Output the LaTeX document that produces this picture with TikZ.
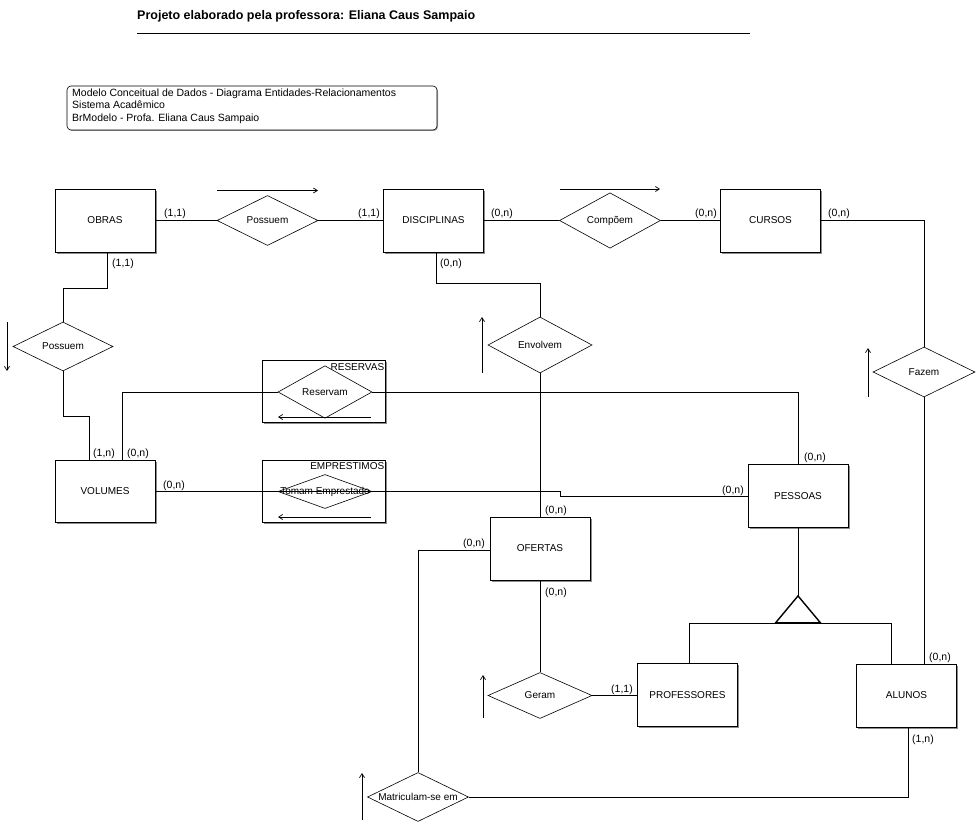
\documentclass[tikz,border=0pt]{standalone}
\usepackage{fontspec}
\setmainfont{Liberation Sans}
\usetikzlibrary{shapes.geometric,shadows,arrows.meta}

\begin{document}
\begin{tikzpicture}[x=1pt,y=-1pt,
  font=\fontsize{10}{12}\selectfont,
  shadowed/.style={drop shadow={shadow xshift=1.6pt, shadow yshift=-1.6pt, fill=black!45, opacity=1}},
  entity/.style={draw, fill=white, minimum width=100pt, minimum height=63pt, inner sep=0pt, line width=0.8pt, shadowed},
  rel/.style={draw, diamond, fill=white, inner sep=0pt, minimum width=102pt, minimum height=50pt, line width=0.6pt},
  smallrel/.style={rel, minimum width=94pt, minimum height=34pt},
  aggr/.style={draw, fill=white, minimum width=123pt, minimum height=62pt, inner sep=0pt, line width=0.8pt, shadowed},
  link/.style={line width=0.7pt},
  card/.style={inner sep=0pt, font=\fontsize{10.5}{12}\selectfont},
  dirarrow/.style={line width=0.7pt, -{Straight Barb[length=4pt,width=5pt]}}
]
\useasboundingbox (0,0) rectangle (979,829);

% heading
\node[anchor=west, inner sep=0pt, font=\fontsize{12.5}{14}\selectfont\bfseries] (title) at (137,16)
  {Projeto elaborado pela professora: Eliana Caus Sampaio};
\draw[line width=0.8pt] (137,33) -- (750,33);

% legend box
\node[draw, rounded corners=4pt, line width=0.6pt, minimum width=370pt, minimum height=44pt,
      drop shadow={shadow xshift=1pt, shadow yshift=-1pt, fill=black!35, opacity=1}, fill=white] (legend) at (252,108) {};
\node[anchor=north west, inner sep=0pt, align=left, font=\fontsize{10.5}{12.5}\selectfont] (legtext) at (72,88.5)
  {Modelo Conceitual de Dados - Diagrama Entidades-Relacionamentos\\
   Sistema Acadêmico\\
   BrModelo - Profa. Eliana Caus Sampaio};

% aggregations
\node[aggr] (reservas) at (323.5,391.5) {};
\node[anchor=north east, inner sep=0pt] (reslbl) at ([xshift=-1pt,yshift=-3pt]reservas.north east) {RESERVAS};
\node[aggr] (emprest) at (323.5,491) {};
\node[anchor=north east, inner sep=0pt] (emplbl) at ([xshift=-1pt,yshift=-3pt]emprest.north east) {EMPRESTIMOS};

% entities
\node[entity] (obras)   at (105,220.5) {OBRAS};
\node[entity] (disc)    at (433.5,220.5) {DISCIPLINAS};
\node[entity] (cursos)  at (770.5,220.5) {CURSOS};
\node[entity, minimum height=62pt] (volumes) at (105,491) {VOLUMES};
\node[entity] (pessoas) at (798,496) {PESSOAS};
\node[entity] (ofertas) at (540,548.5) {OFERTAS};
\node[entity] (prof)    at (687.5,695) {PROFESSORES};
\node[entity] (alunos)  at (906.5,695.5) {ALUNOS};

% relationships
\node[rel, minimum width=101pt] (poss1) at (267.5,220.5) {Possuem};
\node[rel, minimum width=101pt, minimum height=52pt] (compoem) at (610,220.5) {Compõem};
\node[rel, minimum width=100pt, minimum height=49pt] (poss2) at (63,346.5) {Possuem};
\node[rel, minimum width=104pt, minimum height=56pt] (envolvem) at (540,345) {Envolvem};
\node[rel] (fazem) at (924,372) {Fazem};
\node[smallrel] (reservam) at (325,392) {Reservam};
\node[smallrel] (tomam) at (325,491.5) {};
\node[rel, minimum width=104pt, minimum height=46pt] (geram) at (540,695.5) {Geram};
\node[rel, minimum width=101pt, minimum height=49pt] (matric) at (418,797) {\makebox[0pt]{Matriculam-se em}};

% connectors
\draw[link] (obras.east) -- (poss1.west);
\draw[link] (poss1.east) -- (disc.west);
\draw[link] (disc.east) -- (compoem.west);
\draw[link] (compoem.east) -- (cursos.west);
\draw[link] (cursos.east) -| (fazem.north);
\draw[link] (fazem.south) -- (fazem.south |- alunos.north);
\draw[link] ([xshift=2pt]obras.south) -- ++(0,35.5) -| (poss2.north);
\draw[link] (poss2.south) -- ++(0,45) -| ([xshift=-16pt]volumes.north);
\draw[link] ([xshift=17pt]volumes.north) |- (reservam.west);
\draw[link] (reservam.east) -| (pessoas.north);
% the VOLUMES--PESSOAS line runs straight across the Tomam Emprestado diamond
\draw[link] (volumes.east) -- ++(405,0) |- (pessoas.west);
\node[inner sep=0pt] (tomamlbl) at (tomam.center) {Tomam Emprestado};
\draw[link] ([xshift=2.5pt]disc.south) -- ++(0,31) -| (envolvem.north);
\draw[link] (envolvem.south) -- (ofertas.north);
\draw[link] ([yshift=-1.5pt]ofertas.west) -| (matric.north);
\draw[link] (ofertas.south) -- (geram.north);
\draw[link] (geram.east) -- (geram.east -| prof.west);
\draw[link] (matric.east) -| ([xshift=1.5pt]alunos.south);

% generalization of PESSOAS
\coordinate (isa) at ([yshift=-68pt]pessoas.south);
\draw[link] (pessoas.south) -- (isa);
\draw[line width=1.4pt, line join=miter] (isa) -- ++(-22.5,27) -- ++(45,0) -- cycle;
\draw[link] ([xshift=1.5pt]prof.north) |- ([yshift=-27pt]isa) -| ([xshift=-15.5pt]alunos.north);

% direction indicators
\draw[dirarrow] (217,190.5) -- (318,190.5);
\draw[dirarrow] (560,189) -- (660,189);
\draw[dirarrow] (7,322) -- (7,371);
\draw[dirarrow] (482,373) -- (482,317);
\draw[dirarrow] (868,397) -- (868,348);
\draw[dirarrow] (371,417) -- (278,417);
\draw[dirarrow] (371,517) -- (278,517);
\draw[dirarrow] (483,718) -- (483,675);
\draw[dirarrow] (362,820) -- (362,773);

% cardinalities
\node[card] (c1)  at (175,214) {(1,1)};
\node[card] (c2)  at (369,214) {(1,1)};
\node[card] (c3)  at (123,264) {(1,1)};
\node[card] (c4)  at (502,214) {(0,n)};
\node[card] (c5)  at (451,264) {(0,n)};
\node[card] (c6)  at (706,214) {(0,n)};
\node[card] (c7)  at (839,214) {(0,n)};
\node[card] (c8)  at (104,454) {(1,n)};
\node[card] (c9)  at (138,454) {(0,n)};
\node[card] (c10) at (174,486) {(0,n)};
\node[card] (c11) at (815,458) {(0,n)};
\node[card] (c12) at (733,491) {(0,n)};
\node[card] (c13) at (556,511) {(0,n)};
\node[card] (c14) at (474,544) {(0,n)};
\node[card] (c15) at (556,593) {(0,n)};
\node[card] (c16) at (622,690) {(1,1)};
\node[card] (c17) at (940,658) {(0,n)};
\node[card] (c18) at (923,740) {(1,n)};
\end{tikzpicture}
\end{document}
